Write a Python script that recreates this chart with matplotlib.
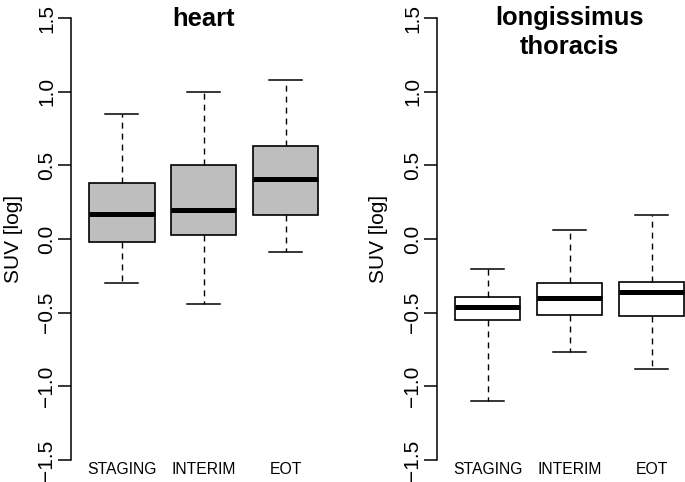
import matplotlib
matplotlib.use("Agg")
import matplotlib.pyplot as plt

plt.rcParams['font.family'] = ['Liberation Sans', 'DejaVu Sans']

groups = ["STAGING", "INTERIM", "EOT"]

# heart: lower whisker, Q1, median, Q3, upper whisker
heart_lo = [-0.30, -0.44, -0.09]
heart_q1 = [-0.02, 0.03, 0.16]
heart_med = [0.17, 0.20, 0.41]
heart_q3 = [0.38, 0.50, 0.63]
heart_hi = [0.85, 1.00, 1.08]

# longissimus thoracis
lt_lo = [-1.10, -0.765, -0.885]
lt_q1 = [-0.55, -0.515, -0.525]
lt_med = [-0.46, -0.40, -0.36]
lt_q3 = [-0.395, -0.30, -0.295]
lt_hi = [-0.205, 0.06, 0.16]

yticks = [-1.5, -1.0, -0.5, 0.0, 0.5, 1.0, 1.5]


def make_stats(lo, q1, med, q3, hi):
    stats = []
    for i in range(len(groups)):
        stats.append(dict(whislo=lo[i], q1=q1[i], med=med[i], q3=q3[i],
                          whishi=hi[i], fliers=[], label=groups[i]))
    return stats


def draw_panel(ax, stats, fill, title_lines):
    bp = ax.bxp(stats, positions=[1, 2, 3], widths=0.8, capwidths=0.4,
                patch_artist=True, showfliers=False,
                boxprops=dict(facecolor=fill, edgecolor='black', linewidth=1.2),
                medianprops=dict(color='black', linewidth=3.6, solid_capstyle='butt'),
                whiskerprops=dict(color='black', linewidth=1.0, linestyle=(0, (4.3, 3.6))),
                capprops=dict(color='black', linewidth=1.1))
    ax.set_xlim(0.38, 3.62)
    ax.set_ylim(-1.62, 1.62)
    for s in ['top', 'right', 'bottom']:
        ax.spines[s].set_visible(False)
    ax.spines['left'].set_bounds(-1.5, 1.5)
    ax.spines['left'].set_linewidth(1.1)
    ax.set_yticks(yticks)
    ax.set_yticklabels(['{:.1f}'.format(v).replace('-', '\u2212') for v in yticks])
    ax.tick_params(axis='y', length=9.6, width=1.1, pad=1, labelsize=15,
                   labelrotation=90)
    for lab in ax.get_yticklabels():
        lab.set_verticalalignment('center')
    ax.set_xticks([1, 2, 3])
    ax.set_xticklabels(groups)
    ax.tick_params(axis='x', length=0, pad=-11.2, labelsize=11.3)
    ax.text(-0.218, 0.5, 'SUV [log]', transform=ax.transAxes, rotation=90,
            ha='center', va='center', fontsize=15)
    # baseline of the last title line
    ybase = 0.9464 - 0.0587 * (len(title_lines) - 1)
    ax.text(0.5, ybase, '\n'.join(title_lines), transform=ax.transAxes,
            ha='center', va='baseline', fontsize=18.4, fontweight='bold',
            linespacing=1.24)
    return bp


fig = plt.figure(figsize=(6.85, 4.82), dpi=100)
ax1 = fig.add_axes([0.1035, 0.00913, 0.3877, 0.99004])
ax2 = fig.add_axes([0.6378, 0.00913, 0.3877, 0.99004])

draw_panel(ax1, make_stats(heart_lo, heart_q1, heart_med, heart_q3, heart_hi),
           '#BEBEBE', ['heart'])
draw_panel(ax2, make_stats(lt_lo, lt_q1, lt_med, lt_q3, lt_hi),
           'white', ['longissimus', 'thoracis'])

fig.savefig('out.png', dpi=100)
